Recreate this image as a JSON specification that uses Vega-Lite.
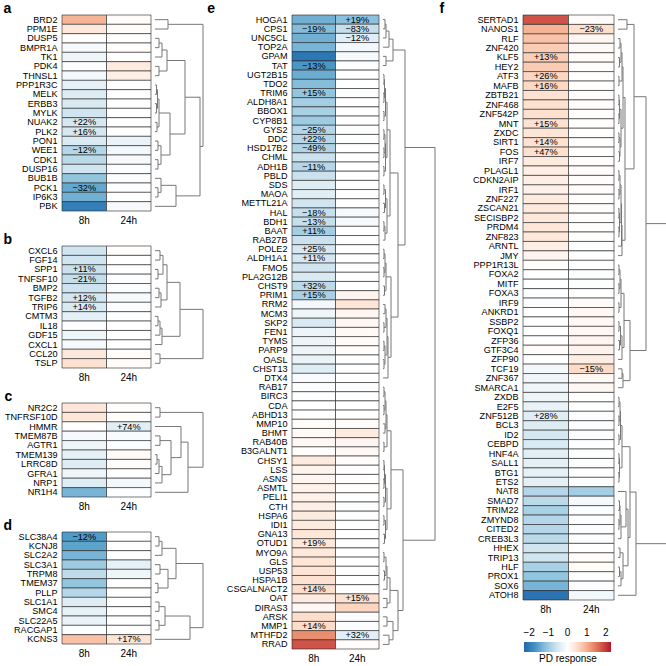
{
"$schema": "https://vega.github.io/schema/vega-lite/v6.json",
"padding": {"left": 3, "top": 1, "right": 0, "bottom": 0},
"datasets": {
"aC": [
{"g":"BRD2","t":"8h","v":0.95},{"g":"BRD2","t":"24h","v":0.05},
{"g":"PPM1E","t":"8h","v":0.35},{"g":"PPM1E","t":"24h","v":0.05},
{"g":"DUSP5","t":"8h","v":0.02},{"g":"DUSP5","t":"24h","v":0},
{"g":"BMPR1A","t":"8h","v":-0.1},{"g":"BMPR1A","t":"24h","v":0.02},
{"g":"TK1","t":"8h","v":-0.2},{"g":"TK1","t":"24h","v":0},
{"g":"PDK4","t":"8h","v":-0.03},{"g":"PDK4","t":"24h","v":0.3},
{"g":"THNSL1","t":"8h","v":-0.15},{"g":"THNSL1","t":"24h","v":0.25},
{"g":"PPP1R3C","t":"8h","v":-0.3},{"g":"PPP1R3C","t":"24h","v":0},
{"g":"MELK","t":"8h","v":-0.4},{"g":"MELK","t":"24h","v":0},
{"g":"ERBB3","t":"8h","v":-0.45},{"g":"ERBB3","t":"24h","v":0},
{"g":"MYLK","t":"8h","v":-0.55},{"g":"MYLK","t":"24h","v":0},
{"g":"NUAK2","t":"8h","v":-0.5},{"g":"NUAK2","t":"24h","v":0},
{"g":"PLK2","t":"8h","v":-0.5},{"g":"PLK2","t":"24h","v":0},
{"g":"PON1","t":"8h","v":-0.45},{"g":"PON1","t":"24h","v":-0.25},
{"g":"WEE1","t":"8h","v":-0.8},{"g":"WEE1","t":"24h","v":-0.15},
{"g":"CDK1","t":"8h","v":-0.75},{"g":"CDK1","t":"24h","v":-0.1},
{"g":"DUSP16","t":"8h","v":-0.55},{"g":"DUSP16","t":"24h","v":-0.05},
{"g":"BUB1B","t":"8h","v":-1.1},{"g":"BUB1B","t":"24h","v":-0.05},
{"g":"PCK1","t":"8h","v":-1.45},{"g":"PCK1","t":"24h","v":0},
{"g":"IP6K3","t":"8h","v":-1.35},{"g":"IP6K3","t":"24h","v":0},
{"g":"PBK","t":"8h","v":-1.95},{"g":"PBK","t":"24h","v":-0.1}
],
"aL": [
{"g":"NUAK2","t":"8h","l":"+22%"},{"g":"PLK2","t":"8h","l":"+16%"},{"g":"WEE1","t":"8h","l":"−12%"},{"g":"PCK1","t":"8h","l":"−32%"}
],
"aD": [
{"h":13,"h1":0,"y1":0.5,"h2":0,"y2":1.5},
{"h":4,"h1":0,"y1":2.5,"h2":0,"y2":3.5},
{"h":7,"h1":4,"y1":3.0,"h2":0,"y2":4.5},
{"h":4,"h1":0,"y1":5.5,"h2":0,"y2":6.5},
{"h":12,"h1":7,"y1":3.75,"h2":4,"y2":6.0},
{"h":1.5,"h1":0,"y1":7.5,"h2":0,"y2":8.5},
{"h":1.5,"h1":0,"y1":9.5,"h2":0,"y2":10.5},
{"h":2.5,"h1":1.5,"y1":8.0,"h2":1.5,"y2":10.0},
{"h":2,"h1":0,"y1":11.5,"h2":0,"y2":12.5},
{"h":4,"h1":2.5,"y1":9.0,"h2":2,"y2":12.0},
{"h":3,"h1":0,"y1":13.5,"h2":0,"y2":14.5},
{"h":3,"h1":0,"y1":15.5,"h2":0,"y2":16.5},
{"h":6,"h1":3,"y1":14.0,"h2":3,"y2":16.0},
{"h":15,"h1":4,"y1":10.5,"h2":6,"y2":15.0},
{"h":30,"h1":12,"y1":4.875,"h2":15,"y2":12.75},
{"h":3,"h1":0,"y1":18.5,"h2":0,"y2":19.5},
{"h":6,"h1":0,"y1":17.5,"h2":3,"y2":19.0},
{"h":21,"h1":6,"y1":18.25,"h2":0,"y2":20.5},
{"h":45,"h1":30,"y1":8.81,"h2":21,"y2":19.38},
{"h":48,"h1":13,"y1":1.0,"h2":45,"y2":14.09}
],
"bC": [
{"g":"CXCL6","t":"8h","v":-0.55},{"g":"CXCL6","t":"24h","v":0.02},
{"g":"FGF14","t":"8h","v":-0.55},{"g":"FGF14","t":"24h","v":0},
{"g":"SPP1","t":"8h","v":-0.62},{"g":"SPP1","t":"24h","v":0},
{"g":"TNFSF10","t":"8h","v":-0.66},{"g":"TNFSF10","t":"24h","v":-0.05},
{"g":"BMP2","t":"8h","v":-0.58},{"g":"BMP2","t":"24h","v":-0.05},
{"g":"TGFB2","t":"8h","v":-0.52},{"g":"TGFB2","t":"24h","v":-0.1},
{"g":"TRIP6","t":"8h","v":-0.45},{"g":"TRIP6","t":"24h","v":-0.05},
{"g":"CMTM3","t":"8h","v":-0.3},{"g":"CMTM3","t":"24h","v":0},
{"g":"IL18","t":"8h","v":-0.05},{"g":"IL18","t":"24h","v":0},
{"g":"GDF15","t":"8h","v":-0.2},{"g":"GDF15","t":"24h","v":0},
{"g":"CXCL1","t":"8h","v":-0.12},{"g":"CXCL1","t":"24h","v":0},
{"g":"CCL20","t":"8h","v":0.35},{"g":"CCL20","t":"24h","v":0.02},
{"g":"TSLP","t":"8h","v":0.45},{"g":"TSLP","t":"24h","v":0.05}
],
"bL": [
{"g":"SPP1","t":"8h","l":"+11%"},{"g":"TNFSF10","t":"8h","l":"−21%"},{"g":"TGFB2","t":"8h","l":"+12%"},{"g":"TRIP6","t":"8h","l":"+14%"}
],
"bD": [
{"h":5,"h1":0,"y1":0.5,"h2":0,"y2":1.5},
{"h":3,"h1":0,"y1":2.5,"h2":0,"y2":3.5},
{"h":8,"h1":5,"y1":1.0,"h2":3,"y2":3.0},
{"h":4,"h1":0,"y1":4.5,"h2":0,"y2":5.5},
{"h":6,"h1":4,"y1":5.0,"h2":0,"y2":6.5},
{"h":12,"h1":8,"y1":2.0,"h2":6,"y2":5.75},
{"h":3,"h1":0,"y1":7.5,"h2":0,"y2":8.5},
{"h":5,"h1":3,"y1":8.0,"h2":0,"y2":9.5},
{"h":7,"h1":5,"y1":8.75,"h2":0,"y2":10.5},
{"h":25,"h1":12,"y1":3.875,"h2":7,"y2":9.625},
{"h":5,"h1":0,"y1":11.5,"h2":0,"y2":12.5},
{"h":48,"h1":25,"y1":6.75,"h2":5,"y2":12.0}
],
"cC": [
{"g":"NR2C2","t":"8h","v":0.38},{"g":"NR2C2","t":"24h","v":0.02},
{"g":"TNFRSF10D","t":"8h","v":0.38},{"g":"TNFRSF10D","t":"24h","v":0.02},
{"g":"HMMR","t":"8h","v":0},{"g":"HMMR","t":"24h","v":-0.35},
{"g":"TMEM87B","t":"8h","v":-0.1},{"g":"TMEM87B","t":"24h","v":-0.08},
{"g":"AGTR1","t":"8h","v":-0.2},{"g":"AGTR1","t":"24h","v":-0.05},
{"g":"TMEM139","t":"8h","v":-0.3},{"g":"TMEM139","t":"24h","v":0.08},
{"g":"LRRC8D","t":"8h","v":-0.4},{"g":"LRRC8D","t":"24h","v":0.04},
{"g":"GFRA1","t":"8h","v":-0.2},{"g":"GFRA1","t":"24h","v":0},
{"g":"NRP1","t":"8h","v":-0.4},{"g":"NRP1","t":"24h","v":-0.15},
{"g":"NR1H4","t":"8h","v":-1.3},{"g":"NR1H4","t":"24h","v":-0.05}
],
"cL": [
{"g":"HMMR","t":"24h","l":"+74%"}
],
"cD": [
{"h":5,"h1":0,"y1":0.5,"h2":0,"y2":1.5},
{"h":5,"h1":0,"y1":3.5,"h2":0,"y2":4.5},
{"h":2,"h1":0,"y1":5.5,"h2":0,"y2":6.5},
{"h":4,"h1":2,"y1":6.0,"h2":0,"y2":7.5},
{"h":7,"h1":4,"y1":6.75,"h2":0,"y2":8.5},
{"h":16,"h1":5,"y1":4.0,"h2":7,"y2":7.625},
{"h":26,"h1":0,"y1":2.5,"h2":16,"y2":5.81},
{"h":33,"h1":26,"y1":4.16,"h2":0,"y2":9.5},
{"h":48,"h1":5,"y1":1.0,"h2":33,"y2":6.83}
],
"dC": [
{"g":"SLC38A4","t":"8h","v":-1.6},{"g":"SLC38A4","t":"24h","v":0},
{"g":"KCNJ8","t":"8h","v":-1.5},{"g":"KCNJ8","t":"24h","v":0},
{"g":"SLC2A2","t":"8h","v":-1.3},{"g":"SLC2A2","t":"24h","v":0},
{"g":"SLC3A1","t":"8h","v":-1.0},{"g":"SLC3A1","t":"24h","v":-0.3},
{"g":"TRPM8","t":"8h","v":-0.7},{"g":"TRPM8","t":"24h","v":-0.2},
{"g":"TMEM37","t":"8h","v":-1.1},{"g":"TMEM37","t":"24h","v":0},
{"g":"PLLP","t":"8h","v":-0.8},{"g":"PLLP","t":"24h","v":0},
{"g":"SLC1A1","t":"8h","v":-0.4},{"g":"SLC1A1","t":"24h","v":0},
{"g":"SMC4","t":"8h","v":-0.3},{"g":"SMC4","t":"24h","v":0},
{"g":"SLC22A5","t":"8h","v":-0.25},{"g":"SLC22A5","t":"24h","v":0},
{"g":"RACGAP1","t":"8h","v":-0.05},{"g":"RACGAP1","t":"24h","v":0},
{"g":"KCNS3","t":"8h","v":0.8},{"g":"KCNS3","t":"24h","v":0.4}
],
"dL": [
{"g":"SLC38A4","t":"8h","l":"−12%"},{"g":"KCNS3","t":"24h","l":"+17%"}
],
"dD": [
{"h":4,"h1":0,"y1":0.5,"h2":0,"y2":1.5},
{"h":7,"h1":4,"y1":1.0,"h2":0,"y2":2.5},
{"h":5,"h1":0,"y1":3.5,"h2":0,"y2":4.5},
{"h":3,"h1":0,"y1":5.5,"h2":0,"y2":6.5},
{"h":13,"h1":5,"y1":4.0,"h2":3,"y2":6.0},
{"h":21,"h1":7,"y1":1.75,"h2":13,"y2":5.0},
{"h":4,"h1":0,"y1":7.5,"h2":0,"y2":8.5},
{"h":4,"h1":0,"y1":9.5,"h2":0,"y2":10.5},
{"h":10,"h1":4,"y1":8.0,"h2":4,"y2":10.0},
{"h":35,"h1":10,"y1":9.0,"h2":0,"y2":11.5},
{"h":48,"h1":21,"y1":3.375,"h2":35,"y2":10.25}
],
"eC": [
{"g":"HOGA1","t":"8h","v":-1.35},{"g":"HOGA1","t":"24h","v":-1.15},
{"g":"CPS1","t":"8h","v":-1.2},{"g":"CPS1","t":"24h","v":-0.65},
{"g":"UNC5CL","t":"8h","v":-1.35},{"g":"UNC5CL","t":"24h","v":-0.35},
{"g":"TOP2A","t":"8h","v":-1.3},{"g":"TOP2A","t":"24h","v":-0.15},
{"g":"GPAM","t":"8h","v":-2.05},{"g":"GPAM","t":"24h","v":-0.1},
{"g":"TAT","t":"8h","v":-1.65},{"g":"TAT","t":"24h","v":-0.05},
{"g":"UGT2B15","t":"8h","v":-1.4},{"g":"UGT2B15","t":"24h","v":0},
{"g":"TDO2","t":"8h","v":-1.2},{"g":"TDO2","t":"24h","v":0},
{"g":"TRIM6","t":"8h","v":-1.1},{"g":"TRIM6","t":"24h","v":-0.05},
{"g":"ALDH8A1","t":"8h","v":-0.95},{"g":"ALDH8A1","t":"24h","v":0},
{"g":"BBOX1","t":"8h","v":-0.9},{"g":"BBOX1","t":"24h","v":0},
{"g":"CYP8B1","t":"8h","v":-1.0},{"g":"CYP8B1","t":"24h","v":0},
{"g":"GYS2","t":"8h","v":-0.8},{"g":"GYS2","t":"24h","v":-0.05},
{"g":"DDC","t":"8h","v":-0.8},{"g":"DDC","t":"24h","v":0},
{"g":"HSD17B2","t":"8h","v":-0.85},{"g":"HSD17B2","t":"24h","v":0},
{"g":"CHML","t":"8h","v":-0.6},{"g":"CHML","t":"24h","v":0},
{"g":"ADH1B","t":"8h","v":-0.8},{"g":"ADH1B","t":"24h","v":0},
{"g":"PBLD","t":"8h","v":-0.6},{"g":"PBLD","t":"24h","v":0},
{"g":"SDS","t":"8h","v":-0.4},{"g":"SDS","t":"24h","v":0},
{"g":"MAOA","t":"8h","v":-0.35},{"g":"MAOA","t":"24h","v":0},
{"g":"METTL21A","t":"8h","v":-0.55},{"g":"METTL21A","t":"24h","v":0},
{"g":"HAL","t":"8h","v":-0.65},{"g":"HAL","t":"24h","v":-0.1},
{"g":"BDH1","t":"8h","v":-0.65},{"g":"BDH1","t":"24h","v":-0.1},
{"g":"BAAT","t":"8h","v":-0.95},{"g":"BAAT","t":"24h","v":0},
{"g":"RAB27B","t":"8h","v":-0.6},{"g":"RAB27B","t":"24h","v":0},
{"g":"POLE2","t":"8h","v":-0.5},{"g":"POLE2","t":"24h","v":0},
{"g":"ALDH1A1","t":"8h","v":-0.5},{"g":"ALDH1A1","t":"24h","v":0},
{"g":"FMO5","t":"8h","v":-0.55},{"g":"FMO5","t":"24h","v":0},
{"g":"PLA2G12B","t":"8h","v":-0.45},{"g":"PLA2G12B","t":"24h","v":0},
{"g":"CHST9","t":"8h","v":-0.75},{"g":"CHST9","t":"24h","v":0},
{"g":"PRIM1","t":"8h","v":-0.9},{"g":"PRIM1","t":"24h","v":0.15},
{"g":"RRM2","t":"8h","v":-0.15},{"g":"RRM2","t":"24h","v":0.4},
{"g":"MCM3","t":"8h","v":-0.2},{"g":"MCM3","t":"24h","v":0.15},
{"g":"SKP2","t":"8h","v":-0.45},{"g":"SKP2","t":"24h","v":0.12},
{"g":"FEN1","t":"8h","v":-0.22},{"g":"FEN1","t":"24h","v":0.07},
{"g":"TYMS","t":"8h","v":-0.22},{"g":"TYMS","t":"24h","v":0.06},
{"g":"PARP9","t":"8h","v":-0.22},{"g":"PARP9","t":"24h","v":0.05},
{"g":"OASL","t":"8h","v":-0.25},{"g":"OASL","t":"24h","v":0},
{"g":"CHST13","t":"8h","v":-0.4},{"g":"CHST13","t":"24h","v":0},
{"g":"DTX4","t":"8h","v":-0.08},{"g":"DTX4","t":"24h","v":0},
{"g":"RAB17","t":"8h","v":-0.05},{"g":"RAB17","t":"24h","v":-0.05},
{"g":"BIRC3","t":"8h","v":-0.02},{"g":"BIRC3","t":"24h","v":0},
{"g":"CDA","t":"8h","v":0},{"g":"CDA","t":"24h","v":0},
{"g":"ABHD13","t":"8h","v":0},{"g":"ABHD13","t":"24h","v":0},
{"g":"MMP10","t":"8h","v":0.05},{"g":"MMP10","t":"24h","v":0.05},
{"g":"BHMT","t":"8h","v":0.08},{"g":"BHMT","t":"24h","v":0.3},
{"g":"RAB40B","t":"8h","v":0.1},{"g":"RAB40B","t":"24h","v":0.15},
{"g":"B3GALNT1","t":"8h","v":0.02},{"g":"B3GALNT1","t":"24h","v":0.1},
{"g":"CHSY1","t":"8h","v":0.3},{"g":"CHSY1","t":"24h","v":0.04},
{"g":"LSS","t":"8h","v":0.18},{"g":"LSS","t":"24h","v":0},
{"g":"ASNS","t":"8h","v":0.15},{"g":"ASNS","t":"24h","v":0.02},
{"g":"ASMTL","t":"8h","v":0.2},{"g":"ASMTL","t":"24h","v":0.02},
{"g":"PELI1","t":"8h","v":0.22},{"g":"PELI1","t":"24h","v":0},
{"g":"CTH","t":"8h","v":0.25},{"g":"CTH","t":"24h","v":-0.06},
{"g":"HSPA6","t":"8h","v":0.3},{"g":"HSPA6","t":"24h","v":-0.03},
{"g":"IDI1","t":"8h","v":0.3},{"g":"IDI1","t":"24h","v":0},
{"g":"GNA13","t":"8h","v":0.38},{"g":"GNA13","t":"24h","v":0},
{"g":"OTUD1","t":"8h","v":0.35},{"g":"OTUD1","t":"24h","v":0},
{"g":"MYO9A","t":"8h","v":0.35},{"g":"MYO9A","t":"24h","v":0},
{"g":"GLS","t":"8h","v":0.4},{"g":"GLS","t":"24h","v":0},
{"g":"USP53","t":"8h","v":0.42},{"g":"USP53","t":"24h","v":0},
{"g":"HSPA1B","t":"8h","v":0.45},{"g":"HSPA1B","t":"24h","v":0},
{"g":"CSGALNACT2","t":"8h","v":0.5},{"g":"CSGALNACT2","t":"24h","v":0},
{"g":"OAT","t":"8h","v":0.32},{"g":"OAT","t":"24h","v":0.45},
{"g":"DIRAS3","t":"8h","v":0.1},{"g":"DIRAS3","t":"24h","v":0.6},
{"g":"ARSK","t":"8h","v":0.5},{"g":"ARSK","t":"24h","v":-0.06},
{"g":"MMP1","t":"8h","v":0.52},{"g":"MMP1","t":"24h","v":-0.05},
{"g":"MTHFD2","t":"8h","v":1.3},{"g":"MTHFD2","t":"24h","v":-0.33},
{"g":"RRAD","t":"8h","v":1.8},{"g":"RRAD","t":"24h","v":0.04}
],
"eL": [
{"g":"HOGA1","t":"24h","l":"+19%"},{"g":"CPS1","t":"8h","l":"−19%"},{"g":"CPS1","t":"24h","l":"−83%"},
{"g":"UNC5CL","t":"24h","l":"−12%"},{"g":"TAT","t":"8h","l":"−13%"},{"g":"TRIM6","t":"8h","l":"+15%"},
{"g":"GYS2","t":"8h","l":"−25%"},{"g":"DDC","t":"8h","l":"+22%"},{"g":"HSD17B2","t":"8h","l":"−49%"},
{"g":"ADH1B","t":"8h","l":"−11%"},{"g":"HAL","t":"8h","l":"−18%"},{"g":"BDH1","t":"8h","l":"−13%"},
{"g":"BAAT","t":"8h","l":"+11%"},{"g":"POLE2","t":"8h","l":"+25%"},{"g":"ALDH1A1","t":"8h","l":"+11%"},
{"g":"CHST9","t":"8h","l":"+32%"},{"g":"PRIM1","t":"8h","l":"+15%"},{"g":"OTUD1","t":"8h","l":"+19%"},
{"g":"CSGALNACT2","t":"8h","l":"+14%"},{"g":"OAT","t":"24h","l":"+15%"},{"g":"MMP1","t":"8h","l":"+14%"},
{"g":"MTHFD2","t":"24h","l":"+32%"}
],
"eD": [
{"h":2,"h1":0,"y1":0.5,"h2":0,"y2":1.5},
{"h":3,"h1":2,"y1":1.0,"h2":0,"y2":2.5},
{"h":6,"h1":3,"y1":1.75,"h2":0,"y2":3.5},
{"h":3,"h1":0,"y1":4.5,"h2":0,"y2":5.5},
{"h":10,"h1":6,"y1":2.625,"h2":3,"y2":5.0},
{"h":1,"h1":0,"y1":6.5,"h2":0,"y2":7.5},
{"h":1,"h1":0,"y1":8.5,"h2":0,"y2":9.5},
{"h":1.5,"h1":1,"y1":7.0,"h2":1,"y2":9.0},
{"h":1,"h1":0,"y1":10.5,"h2":0,"y2":11.5},
{"h":2.5,"h1":1.5,"y1":8.0,"h2":1,"y2":11.0},
{"h":1,"h1":0,"y1":12.5,"h2":0,"y2":13.5},
{"h":1,"h1":0,"y1":14.5,"h2":0,"y2":15.5},
{"h":2,"h1":1,"y1":13.0,"h2":1,"y2":15.0},
{"h":1,"h1":0,"y1":16.5,"h2":0,"y2":17.5},
{"h":2.5,"h1":2,"y1":14.0,"h2":1,"y2":17.0},
{"h":4,"h1":2.5,"y1":9.5,"h2":2.5,"y2":15.5},
{"h":1,"h1":0,"y1":18.5,"h2":0,"y2":19.5},
{"h":1.5,"h1":0,"y1":20.5,"h2":0,"y2":21.5},
{"h":2.5,"h1":1,"y1":19.0,"h2":1.5,"y2":21.0},
{"h":1,"h1":0,"y1":22.5,"h2":0,"y2":23.5},
{"h":2,"h1":1,"y1":23.0,"h2":0,"y2":24.5},
{"h":4,"h1":2.5,"y1":20.0,"h2":2,"y2":23.75},
{"h":7,"h1":4,"y1":12.5,"h2":4,"y2":21.875},
{"h":1,"h1":0,"y1":25.5,"h2":0,"y2":26.5},
{"h":1,"h1":0,"y1":27.5,"h2":0,"y2":28.5},
{"h":2,"h1":1,"y1":26.0,"h2":1,"y2":28.0},
{"h":1.5,"h1":0,"y1":29.5,"h2":0,"y2":30.5},
{"h":3,"h1":2,"y1":27.0,"h2":1.5,"y2":30.0},
{"h":2,"h1":0,"y1":31.5,"h2":0,"y2":32.5},
{"h":1,"h1":0,"y1":33.5,"h2":0,"y2":34.5},
{"h":3,"h1":2,"y1":32.0,"h2":1,"y2":34.0},
{"h":1,"h1":0,"y1":35.5,"h2":0,"y2":36.5},
{"h":1,"h1":0,"y1":37.5,"h2":0,"y2":38.5},
{"h":2,"h1":1,"y1":36.0,"h2":1,"y2":38.0},
{"h":4,"h1":3,"y1":33.0,"h2":2,"y2":37.0},
{"h":5,"h1":4,"y1":35.0,"h2":0,"y2":39.5},
{"h":8,"h1":3,"y1":28.5,"h2":5,"y2":37.25},
{"h":15,"h1":7,"y1":17.19,"h2":8,"y2":32.875},
{"h":22,"h1":10,"y1":3.81,"h2":15,"y2":25.03},
{"h":1,"h1":0,"y1":40.5,"h2":0,"y2":41.5},
{"h":1,"h1":0,"y1":42.5,"h2":0,"y2":43.5},
{"h":2,"h1":1,"y1":41.0,"h2":1,"y2":43.0},
{"h":2,"h1":0,"y1":44.5,"h2":0,"y2":45.5},
{"h":3,"h1":2,"y1":42.0,"h2":2,"y2":45.0},
{"h":1,"h1":0,"y1":46.5,"h2":0,"y2":47.5},
{"h":4,"h1":3,"y1":43.5,"h2":1,"y2":47.0},
{"h":1,"h1":0,"y1":48.5,"h2":0,"y2":49.5},
{"h":1,"h1":0,"y1":50.5,"h2":0,"y2":51.5},
{"h":1.5,"h1":1,"y1":49.0,"h2":1,"y2":51.0},
{"h":1,"h1":0,"y1":52.5,"h2":0,"y2":53.5},
{"h":2.5,"h1":1.5,"y1":50.0,"h2":1,"y2":53.0},
{"h":1,"h1":0,"y1":54.5,"h2":0,"y2":55.5},
{"h":1.5,"h1":0,"y1":56.5,"h2":0,"y2":57.5},
{"h":2.5,"h1":1,"y1":55.0,"h2":1.5,"y2":57.0},
{"h":4,"h1":2.5,"y1":51.5,"h2":2.5,"y2":56.0},
{"h":8,"h1":4,"y1":45.25,"h2":4,"y2":53.75},
{"h":1,"h1":0,"y1":58.5,"h2":0,"y2":59.5},
{"h":1.5,"h1":0,"y1":60.5,"h2":0,"y2":61.5},
{"h":3,"h1":1,"y1":59.0,"h2":1.5,"y2":61.0},
{"h":4,"h1":3,"y1":60.0,"h2":0,"y2":62.5},
{"h":4,"h1":0,"y1":63.5,"h2":0,"y2":64.5},
{"h":7,"h1":4,"y1":61.25,"h2":4,"y2":64.0},
{"h":4,"h1":0,"y1":65.5,"h2":0,"y2":66.5},
{"h":6,"h1":0,"y1":67.5,"h2":0,"y2":68.5},
{"h":10,"h1":4,"y1":66.0,"h2":6,"y2":68.0},
{"h":15,"h1":7,"y1":62.625,"h2":10,"y2":67.0},
{"h":20,"h1":8,"y1":49.5,"h2":15,"y2":64.81},
{"h":52,"h1":22,"y1":14.42,"h2":20,"y2":57.16}
],
"fC": [
{"g":"SERTAD1","t":"8h","v":1.8},{"g":"SERTAD1","t":"24h","v":0.06},
{"g":"NANOS1","t":"8h","v":0.95},{"g":"NANOS1","t":"24h","v":0.48},
{"g":"RLF","t":"8h","v":0.8},{"g":"RLF","t":"24h","v":0.13},
{"g":"ZNF420","t":"8h","v":0.7},{"g":"ZNF420","t":"24h","v":0.08},
{"g":"KLF5","t":"8h","v":0.68},{"g":"KLF5","t":"24h","v":0.05},
{"g":"HEY2","t":"8h","v":0.72},{"g":"HEY2","t":"24h","v":0.02},
{"g":"ATF3","t":"8h","v":0.6},{"g":"ATF3","t":"24h","v":0.02},
{"g":"MAFB","t":"8h","v":0.58},{"g":"MAFB","t":"24h","v":0.02},
{"g":"ZBTB21","t":"8h","v":0.45},{"g":"ZBTB21","t":"24h","v":0.04},
{"g":"ZNF468","t":"8h","v":0.48},{"g":"ZNF468","t":"24h","v":0.04},
{"g":"ZNF542P","t":"8h","v":0.48},{"g":"ZNF542P","t":"24h","v":0.04},
{"g":"MNT","t":"8h","v":0.44},{"g":"MNT","t":"24h","v":0.02},
{"g":"ZXDC","t":"8h","v":0.4},{"g":"ZXDC","t":"24h","v":0.02},
{"g":"SIRT1","t":"8h","v":0.44},{"g":"SIRT1","t":"24h","v":0.02},
{"g":"FOS","t":"8h","v":0.46},{"g":"FOS","t":"24h","v":0.02},
{"g":"IRF7","t":"8h","v":0.3},{"g":"IRF7","t":"24h","v":0.04},
{"g":"PLAGL1","t":"8h","v":0.26},{"g":"PLAGL1","t":"24h","v":0.04},
{"g":"CDKN2AIP","t":"8h","v":0.25},{"g":"CDKN2AIP","t":"24h","v":0.03},
{"g":"IRF1","t":"8h","v":0.22},{"g":"IRF1","t":"24h","v":0.04},
{"g":"ZNF227","t":"8h","v":0.3},{"g":"ZNF227","t":"24h","v":0.02},
{"g":"ZSCAN21","t":"8h","v":0.33},{"g":"ZSCAN21","t":"24h","v":0.03},
{"g":"SECISBP2","t":"8h","v":0.35},{"g":"SECISBP2","t":"24h","v":0.02},
{"g":"PRDM4","t":"8h","v":0.38},{"g":"PRDM4","t":"24h","v":0.02},
{"g":"ZNF823","t":"8h","v":0.35},{"g":"ZNF823","t":"24h","v":0.02},
{"g":"ARNTL","t":"8h","v":0.26},{"g":"ARNTL","t":"24h","v":-0.03},
{"g":"JMY","t":"8h","v":0.15},{"g":"JMY","t":"24h","v":0},
{"g":"PPP1R13L","t":"8h","v":0.02},{"g":"PPP1R13L","t":"24h","v":0},
{"g":"FOXA2","t":"8h","v":0},{"g":"FOXA2","t":"24h","v":-0.03},
{"g":"MITF","t":"8h","v":0},{"g":"MITF","t":"24h","v":-0.03},
{"g":"FOXA3","t":"8h","v":-0.05},{"g":"FOXA3","t":"24h","v":0},
{"g":"IRF9","t":"8h","v":-0.06},{"g":"IRF9","t":"24h","v":0.06},
{"g":"ANKRD1","t":"8h","v":0},{"g":"ANKRD1","t":"24h","v":0.1},
{"g":"SSBP2","t":"8h","v":0},{"g":"SSBP2","t":"24h","v":0.1},
{"g":"FOXQ1","t":"8h","v":0},{"g":"FOXQ1","t":"24h","v":0.12},
{"g":"ZFP36","t":"8h","v":0},{"g":"ZFP36","t":"24h","v":0.15},
{"g":"GTF3C4","t":"8h","v":0.05},{"g":"GTF3C4","t":"24h","v":0.18},
{"g":"ZFP90","t":"8h","v":0},{"g":"ZFP90","t":"24h","v":0.28},
{"g":"TCF19","t":"8h","v":-0.15},{"g":"TCF19","t":"24h","v":0.55},
{"g":"ZNF367","t":"8h","v":-0.18},{"g":"ZNF367","t":"24h","v":0.1},
{"g":"SMARCA1","t":"8h","v":-0.2},{"g":"SMARCA1","t":"24h","v":0.12},
{"g":"ZXDB","t":"8h","v":-0.22},{"g":"ZXDB","t":"24h","v":0},
{"g":"E2F5","t":"8h","v":-0.28},{"g":"E2F5","t":"24h","v":-0.02},
{"g":"ZNF512B","t":"8h","v":-0.38},{"g":"ZNF512B","t":"24h","v":-0.05},
{"g":"BCL3","t":"8h","v":-0.4},{"g":"BCL3","t":"24h","v":-0.05},
{"g":"ID2","t":"8h","v":-0.5},{"g":"ID2","t":"24h","v":-0.05},
{"g":"CEBPD","t":"8h","v":-0.45},{"g":"CEBPD","t":"24h","v":0},
{"g":"HNF4A","t":"8h","v":-0.35},{"g":"HNF4A","t":"24h","v":-0.03},
{"g":"SALL1","t":"8h","v":-0.32},{"g":"SALL1","t":"24h","v":-0.03},
{"g":"BTG1","t":"8h","v":-0.3},{"g":"BTG1","t":"24h","v":0},
{"g":"ETS2","t":"8h","v":-0.32},{"g":"ETS2","t":"24h","v":-0.03},
{"g":"NAT8","t":"8h","v":-0.8},{"g":"NAT8","t":"24h","v":-0.95},
{"g":"SMAD7","t":"8h","v":-0.75},{"g":"SMAD7","t":"24h","v":-0.12},
{"g":"TRIM22","t":"8h","v":-0.9},{"g":"TRIM22","t":"24h","v":-0.05},
{"g":"ZMYND8","t":"8h","v":-0.8},{"g":"ZMYND8","t":"24h","v":-0.05},
{"g":"CITED2","t":"8h","v":-0.8},{"g":"CITED2","t":"24h","v":-0.05},
{"g":"CREB3L3","t":"8h","v":-0.75},{"g":"CREB3L3","t":"24h","v":-0.05},
{"g":"HHEX","t":"8h","v":-0.55},{"g":"HHEX","t":"24h","v":0},
{"g":"TRIP13","t":"8h","v":-0.55},{"g":"TRIP13","t":"24h","v":0.05},
{"g":"HLF","t":"8h","v":-0.9},{"g":"HLF","t":"24h","v":0.05},
{"g":"PROX1","t":"8h","v":-1.1},{"g":"PROX1","t":"24h","v":-0.02},
{"g":"SOX6","t":"8h","v":-1.3},{"g":"SOX6","t":"24h","v":-0.05},
{"g":"ATOH8","t":"8h","v":-2.1},{"g":"ATOH8","t":"24h","v":-0.15}
],
"fL": [
{"g":"NANOS1","t":"24h","l":"−23%"},{"g":"KLF5","t":"8h","l":"+13%"},{"g":"ATF3","t":"8h","l":"+26%"},
{"g":"MAFB","t":"8h","l":"+16%"},{"g":"MNT","t":"8h","l":"+15%"},{"g":"SIRT1","t":"8h","l":"+14%"},
{"g":"FOS","t":"8h","l":"+47%"},{"g":"TCF19","t":"24h","l":"−15%"},{"g":"ZNF512B","t":"8h","l":"+28%"}
],
"fD": [
{"h":9,"h1":0,"y1":0.5,"h2":0,"y2":1.5},
{"h":2,"h1":0,"y1":2.5,"h2":0,"y2":3.5},
{"h":1.5,"h1":0,"y1":4.5,"h2":0,"y2":5.5},
{"h":3,"h1":2,"y1":3.0,"h2":1.5,"y2":5.0},
{"h":1,"h1":0,"y1":6.5,"h2":0,"y2":7.5},
{"h":4,"h1":3,"y1":4.0,"h2":1,"y2":7.0},
{"h":1,"h1":0,"y1":8.5,"h2":0,"y2":9.5},
{"h":1,"h1":0,"y1":10.5,"h2":0,"y2":11.5},
{"h":1.5,"h1":1,"y1":9.0,"h2":1,"y2":11.0},
{"h":1,"h1":0,"y1":12.5,"h2":0,"y2":13.5},
{"h":1.5,"h1":0,"y1":14.5,"h2":0,"y2":15.5},
{"h":2,"h1":1,"y1":13.0,"h2":1.5,"y2":15.0},
{"h":3,"h1":1.5,"y1":10.0,"h2":2,"y2":14.0},
{"h":5,"h1":4,"y1":5.5,"h2":3,"y2":12.0},
{"h":1,"h1":0,"y1":16.5,"h2":0,"y2":17.5},
{"h":1,"h1":0,"y1":18.5,"h2":0,"y2":19.5},
{"h":2,"h1":1,"y1":17.0,"h2":1,"y2":19.0},
{"h":1,"h1":0,"y1":20.5,"h2":0,"y2":21.5},
{"h":1,"h1":0,"y1":22.5,"h2":0,"y2":23.5},
{"h":1.5,"h1":1,"y1":21.0,"h2":1,"y2":23.0},
{"h":3,"h1":2,"y1":18.0,"h2":1.5,"y2":22.0},
{"h":3.5,"h1":3,"y1":20.0,"h2":0,"y2":24.5},
{"h":4,"h1":3.5,"y1":22.25,"h2":0,"y2":25.5},
{"h":7,"h1":5,"y1":8.75,"h2":4,"y2":23.875},
{"h":16,"h1":9,"y1":1.0,"h2":7,"y2":16.31},
{"h":1,"h1":0,"y1":26.5,"h2":0,"y2":27.5},
{"h":1,"h1":0,"y1":28.5,"h2":0,"y2":29.5},
{"h":2,"h1":1,"y1":27.0,"h2":1,"y2":29.0},
{"h":1,"h1":0,"y1":30.5,"h2":0,"y2":31.5},
{"h":3,"h1":2,"y1":28.0,"h2":1,"y2":31.0},
{"h":1,"h1":0,"y1":32.5,"h2":0,"y2":33.5},
{"h":1.5,"h1":0,"y1":34.5,"h2":0,"y2":35.5},
{"h":2.5,"h1":1,"y1":33.0,"h2":1.5,"y2":35.0},
{"h":4,"h1":2.5,"y1":34.0,"h2":0,"y2":36.5},
{"h":6,"h1":3,"y1":29.5,"h2":4,"y2":35.25},
{"h":4,"h1":0,"y1":37.5,"h2":0,"y2":38.5},
{"h":5,"h1":4,"y1":38.0,"h2":0,"y2":39.5},
{"h":12,"h1":6,"y1":32.375,"h2":5,"y2":38.75},
{"h":28,"h1":16,"y1":8.66,"h2":12,"y2":35.56},
{"h":1,"h1":0,"y1":40.5,"h2":0,"y2":41.5},
{"h":1,"h1":0,"y1":42.5,"h2":0,"y2":43.5},
{"h":2,"h1":1,"y1":41.0,"h2":1,"y2":43.0},
{"h":1,"h1":0,"y1":44.5,"h2":0,"y2":45.5},
{"h":2.5,"h1":2,"y1":42.0,"h2":1,"y2":45.0},
{"h":1,"h1":0,"y1":46.5,"h2":0,"y2":47.5},
{"h":1,"h1":0,"y1":48.5,"h2":0,"y2":49.5},
{"h":1.5,"h1":1,"y1":47.0,"h2":1,"y2":49.0},
{"h":4,"h1":2.5,"y1":43.5,"h2":1.5,"y2":48.0},
{"h":1.5,"h1":0,"y1":51.5,"h2":0,"y2":52.5},
{"h":1,"h1":0,"y1":53.5,"h2":0,"y2":54.5},
{"h":2,"h1":1.5,"y1":52.0,"h2":1,"y2":54.0},
{"h":3,"h1":2,"y1":53.0,"h2":0,"y2":55.5},
{"h":8,"h1":0,"y1":50.5,"h2":3,"y2":54.25},
{"h":2,"h1":0,"y1":56.5,"h2":0,"y2":57.5},
{"h":1.5,"h1":0,"y1":58.5,"h2":0,"y2":59.5},
{"h":3,"h1":1.5,"y1":59.0,"h2":0,"y2":60.5},
{"h":5,"h1":2,"y1":57.0,"h2":3,"y2":59.75},
{"h":10,"h1":8,"y1":52.375,"h2":5,"y2":58.375},
{"h":12,"h1":4,"y1":45.75,"h2":10,"y2":55.375},
{"h":18,"h1":12,"y1":50.56,"h2":0,"y2":61.5},
{"h":54,"h1":28,"y1":22.11,"h2":18,"y2":56.03}
]
},
"hconcat": [
{"vconcat": [
 {"title": {"text": "a", "dx": -12}, "spacing": 2, "hconcat": [
  {"data": {"name": "aC"}, "width": 89, "height": 196,
   "encoding": {"y": {"field": "g", "type": "nominal", "sort": null, "title": null}, "x": {"field": "t", "type": "nominal", "sort": null, "title": null}},
   "layer": [
    {"mark": {"type": "rect", "stroke": "#222", "strokeWidth": 0.6}, "encoding": {"color": {"field": "v", "type": "quantitative", "scale": {"domain": [-2.27,-1.7,-1.1,-0.55,0,0.55,1.1,1.7,2.27], "range": ["#2166ac","#4393c3","#92c5de","#d1e5f0","#ffffff","#fddbc7","#f4a582","#d6604d","#b2182b"], "interpolate": "rgb"}}}},
    {"data": {"name": "aL"}, "mark": {"type": "text", "fontSize": 9.2, "font": "Liberation Sans", "color": "#000"}, "encoding": {"text": {"field": "l"}}}
   ]},
  {"data": {"name": "aD"}, "width": 50, "height": 196,
   "layer": [
    {"mark": {"type": "rule", "color": "#777", "strokeWidth": 1}, "encoding": {"x": {"field": "h", "type": "quantitative", "scale": {"domain": [0, 50], "nice": false, "zero": false}, "axis": null}, "y": {"field": "y1", "type": "quantitative", "scale": {"domain": [0, 21], "nice": false, "zero": false, "reverse": true}, "axis": null}, "y2": {"field": "y2"}}},
    {"mark": {"type": "rule", "color": "#777", "strokeWidth": 1}, "encoding": {"x": {"field": "h1", "type": "quantitative", "axis": null}, "x2": {"field": "h"}, "y": {"field": "y1", "type": "quantitative", "axis": null}}},
    {"mark": {"type": "rule", "color": "#777", "strokeWidth": 1}, "encoding": {"x": {"field": "h2", "type": "quantitative", "axis": null}, "x2": {"field": "h"}, "y": {"field": "y2", "type": "quantitative", "axis": null}}}
   ]}
 ]},
 {"title": {"text": "b", "dx": -14}, "spacing": 2, "hconcat": [
  {"data": {"name": "bC"}, "width": 89, "height": 122,
   "encoding": {"y": {"field": "g", "type": "nominal", "sort": null, "title": null}, "x": {"field": "t", "type": "nominal", "sort": null, "title": null}},
   "layer": [
    {"mark": {"type": "rect", "stroke": "#222", "strokeWidth": 0.6}, "encoding": {"color": {"field": "v", "type": "quantitative", "scale": {"domain": [-2.27,-1.7,-1.1,-0.55,0,0.55,1.1,1.7,2.27], "range": ["#2166ac","#4393c3","#92c5de","#d1e5f0","#ffffff","#fddbc7","#f4a582","#d6604d","#b2182b"], "interpolate": "rgb"}}}},
    {"data": {"name": "bL"}, "mark": {"type": "text", "fontSize": 9.2, "font": "Liberation Sans", "color": "#000"}, "encoding": {"text": {"field": "l"}}}
   ]},
  {"data": {"name": "bD"}, "width": 50, "height": 122,
   "layer": [
    {"mark": {"type": "rule", "color": "#777", "strokeWidth": 1}, "encoding": {"x": {"field": "h", "type": "quantitative", "scale": {"domain": [0, 50], "nice": false, "zero": false}, "axis": null}, "y": {"field": "y1", "type": "quantitative", "scale": {"domain": [0, 13], "nice": false, "zero": false, "reverse": true}, "axis": null}, "y2": {"field": "y2"}}},
    {"mark": {"type": "rule", "color": "#777", "strokeWidth": 1}, "encoding": {"x": {"field": "h1", "type": "quantitative", "axis": null}, "x2": {"field": "h"}, "y": {"field": "y1", "type": "quantitative", "axis": null}}},
    {"mark": {"type": "rule", "color": "#777", "strokeWidth": 1}, "encoding": {"x": {"field": "h2", "type": "quantitative", "axis": null}, "x2": {"field": "h"}, "y": {"field": "y2", "type": "quantitative", "axis": null}}}
   ]}
 ]},
 {"title": {"text": "c"}, "spacing": 2, "hconcat": [
  {"data": {"name": "cC"}, "width": 89, "height": 94,
   "encoding": {"y": {"field": "g", "type": "nominal", "sort": null, "title": null}, "x": {"field": "t", "type": "nominal", "sort": null, "title": null}},
   "layer": [
    {"mark": {"type": "rect", "stroke": "#222", "strokeWidth": 0.6}, "encoding": {"color": {"field": "v", "type": "quantitative", "scale": {"domain": [-2.27,-1.7,-1.1,-0.55,0,0.55,1.1,1.7,2.27], "range": ["#2166ac","#4393c3","#92c5de","#d1e5f0","#ffffff","#fddbc7","#f4a582","#d6604d","#b2182b"], "interpolate": "rgb"}}}},
    {"data": {"name": "cL"}, "mark": {"type": "text", "fontSize": 9.2, "font": "Liberation Sans", "color": "#000"}, "encoding": {"text": {"field": "l"}}}
   ]},
  {"data": {"name": "cD"}, "width": 50, "height": 94,
   "layer": [
    {"mark": {"type": "rule", "color": "#777", "strokeWidth": 1}, "encoding": {"x": {"field": "h", "type": "quantitative", "scale": {"domain": [0, 50], "nice": false, "zero": false}, "axis": null}, "y": {"field": "y1", "type": "quantitative", "scale": {"domain": [0, 10], "nice": false, "zero": false, "reverse": true}, "axis": null}, "y2": {"field": "y2"}}},
    {"mark": {"type": "rule", "color": "#777", "strokeWidth": 1}, "encoding": {"x": {"field": "h1", "type": "quantitative", "axis": null}, "x2": {"field": "h"}, "y": {"field": "y1", "type": "quantitative", "axis": null}}},
    {"mark": {"type": "rule", "color": "#777", "strokeWidth": 1}, "encoding": {"x": {"field": "h2", "type": "quantitative", "axis": null}, "x2": {"field": "h"}, "y": {"field": "y2", "type": "quantitative", "axis": null}}}
   ]}
 ]},
 {"title": {"text": "d", "dx": -10}, "spacing": 2, "hconcat": [
  {"data": {"name": "dC"}, "width": 89, "height": 112,
   "encoding": {"y": {"field": "g", "type": "nominal", "sort": null, "title": null}, "x": {"field": "t", "type": "nominal", "sort": null, "title": null}},
   "layer": [
    {"mark": {"type": "rect", "stroke": "#222", "strokeWidth": 0.6}, "encoding": {"color": {"field": "v", "type": "quantitative", "scale": {"domain": [-2.27,-1.7,-1.1,-0.55,0,0.55,1.1,1.7,2.27], "range": ["#2166ac","#4393c3","#92c5de","#d1e5f0","#ffffff","#fddbc7","#f4a582","#d6604d","#b2182b"], "interpolate": "rgb"}}}},
    {"data": {"name": "dL"}, "mark": {"type": "text", "fontSize": 9.2, "font": "Liberation Sans", "color": "#000"}, "encoding": {"text": {"field": "l"}}}
   ]},
  {"data": {"name": "dD"}, "width": 50, "height": 112,
   "layer": [
    {"mark": {"type": "rule", "color": "#777", "strokeWidth": 1}, "encoding": {"x": {"field": "h", "type": "quantitative", "scale": {"domain": [0, 50], "nice": false, "zero": false}, "axis": null}, "y": {"field": "y1", "type": "quantitative", "scale": {"domain": [0, 12], "nice": false, "zero": false, "reverse": true}, "axis": null}, "y2": {"field": "y2"}}},
    {"mark": {"type": "rule", "color": "#777", "strokeWidth": 1}, "encoding": {"x": {"field": "h1", "type": "quantitative", "axis": null}, "x2": {"field": "h"}, "y": {"field": "y1", "type": "quantitative", "axis": null}}},
    {"mark": {"type": "rule", "color": "#777", "strokeWidth": 1}, "encoding": {"x": {"field": "h2", "type": "quantitative", "axis": null}, "x2": {"field": "h"}, "y": {"field": "y2", "type": "quantitative", "axis": null}}}
   ]}
 ]}
], "spacing": 7},
{"title": {"text": "e", "dx": -19}, "spacing": 2, "hconcat": [
  {"data": {"name": "eC"}, "width": 87, "height": 634,
   "encoding": {"y": {"field": "g", "type": "nominal", "sort": null, "title": null}, "x": {"field": "t", "type": "nominal", "sort": null, "title": null}},
   "layer": [
    {"mark": {"type": "rect", "stroke": "#222", "strokeWidth": 0.6}, "encoding": {"color": {"field": "v", "type": "quantitative", "scale": {"domain": [-2.27,-1.7,-1.1,-0.55,0,0.55,1.1,1.7,2.27], "range": ["#2166ac","#4393c3","#92c5de","#d1e5f0","#ffffff","#fddbc7","#f4a582","#d6604d","#b2182b"], "interpolate": "rgb"}}}},
    {"data": {"name": "eL"}, "mark": {"type": "text", "fontSize": 9.2, "font": "Liberation Sans", "color": "#000"}, "encoding": {"text": {"field": "l"}}}
   ]},
  {"data": {"name": "eD"}, "width": 54, "height": 634,
   "layer": [
    {"mark": {"type": "rule", "color": "#777", "strokeWidth": 1}, "encoding": {"x": {"field": "h", "type": "quantitative", "scale": {"domain": [0, 54], "nice": false, "zero": false}, "axis": null}, "y": {"field": "y1", "type": "quantitative", "scale": {"domain": [0, 69], "nice": false, "zero": false, "reverse": true}, "axis": null}, "y2": {"field": "y2"}}},
    {"mark": {"type": "rule", "color": "#777", "strokeWidth": 1}, "encoding": {"x": {"field": "h1", "type": "quantitative", "axis": null}, "x2": {"field": "h"}, "y": {"field": "y1", "type": "quantitative", "axis": null}}},
    {"mark": {"type": "rule", "color": "#777", "strokeWidth": 1}, "encoding": {"x": {"field": "h2", "type": "quantitative", "axis": null}, "x2": {"field": "h"}, "y": {"field": "y2", "type": "quantitative", "axis": null}}}
   ]}
]},
{"title": {"text": "f", "dx": -33}, "spacing": 2, "hconcat": [
  {"data": {"name": "fC"}, "width": 91, "height": 585,
   "encoding": {"y": {"field": "g", "type": "nominal", "sort": null, "title": null}, "x": {"field": "t", "type": "nominal", "sort": null, "title": null}},
   "layer": [
    {"mark": {"type": "rect", "stroke": "#222", "strokeWidth": 0.6}, "encoding": {"color": {"field": "v", "type": "quantitative", "scale": {"domain": [-2.27,-1.7,-1.1,-0.55,0,0.55,1.1,1.7,2.27], "range": ["#2166ac","#4393c3","#92c5de","#d1e5f0","#ffffff","#fddbc7","#f4a582","#d6604d","#b2182b"], "interpolate": "rgb"},
      "legend": {"orient": "none", "legendX": 462, "legendY": 627, "direction": "horizontal", "gradientLength": 87, "gradientThickness": 10, "title": "PD response", "titleOrient": "bottom", "titleAnchor": "middle", "titleFontSize": 10, "titleFontWeight": "normal", "titleFont": "Liberation Sans", "titleColor": "#000", "titlePadding": 2, "labelFontSize": 10, "labelFont": "Liberation Sans", "labelColor": "#000", "labelOffset": -24, "values": [-2, -1, 0, 1, 2], "format": "d", "gradientStrokeWidth": 0}}}},
    {"data": {"name": "fL"}, "mark": {"type": "text", "fontSize": 9.2, "font": "Liberation Sans", "color": "#000"}, "encoding": {"text": {"field": "l"}}}
   ]},
  {"data": {"name": "fD"}, "width": 55, "height": 585,
   "layer": [
    {"mark": {"type": "rule", "color": "#777", "strokeWidth": 1}, "encoding": {"x": {"field": "h", "type": "quantitative", "scale": {"domain": [0, 55], "nice": false, "zero": false}, "axis": null}, "y": {"field": "y1", "type": "quantitative", "scale": {"domain": [0, 62], "nice": false, "zero": false, "reverse": true}, "axis": null}, "y2": {"field": "y2"}}},
    {"mark": {"type": "rule", "color": "#777", "strokeWidth": 1}, "encoding": {"x": {"field": "h1", "type": "quantitative", "axis": null}, "x2": {"field": "h"}, "y": {"field": "y1", "type": "quantitative", "axis": null}}},
    {"mark": {"type": "rule", "color": "#777", "strokeWidth": 1}, "encoding": {"x": {"field": "h2", "type": "quantitative", "axis": null}, "x2": {"field": "h"}, "y": {"field": "y2", "type": "quantitative", "axis": null}}}
   ]}
]}
],
"spacing": 2,
"config": {
 "view": {"stroke": null},
 "font": "Liberation Sans",
 "axis": {"ticks": false, "domain": false, "grid": false, "labelFont": "Liberation Sans", "labelColor": "#000", "labelOverlap": false},
 "axisY": {"labelFontSize": 9.1, "labelPadding": 5},
 "axisX": {"labelFontSize": 10, "labelPadding": 4, "labelAngle": 0},
 "title": {"fontSize": 14, "fontWeight": "bold", "anchor": "start", "offset": -1, "font": "Liberation Sans", "color": "#000"}
}
}
